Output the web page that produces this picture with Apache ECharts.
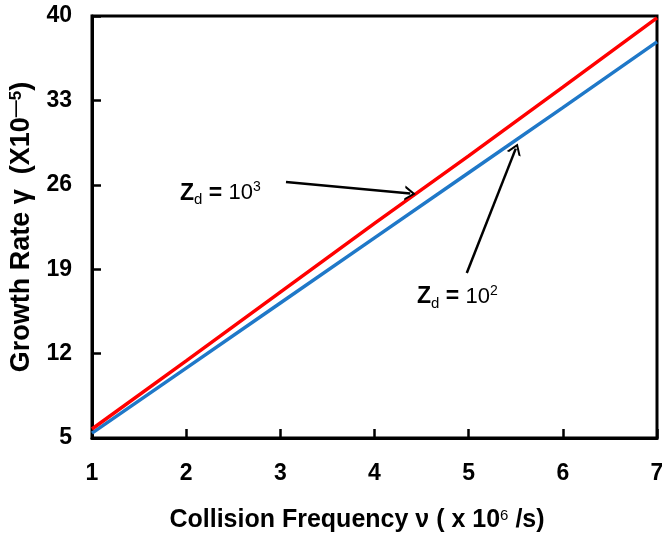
<!DOCTYPE html>
<html><head><meta charset="utf-8">
<script src="https://cdn.jsdelivr.net/npm/echarts@6/dist/echarts.min.js"></script>
<style>html,body{margin:0;padding:0;background:#fff}#c{width:662px;height:539px}</style>
</head><body><div id="c"></div>
<script>
const xValues = [1, 2, 3, 4, 5, 6, 7];
const zd1000 = [5.75, 11.4, 17.1, 22.8, 28.4, 34.1, 39.85];
const zd100 = [5.4, 10.8, 16.2, 21.6, 27.0, 32.4, 37.85];
const yTicks = [5, 12, 19, 26, 33, 40];

const FONT = '"Liberation Sans", Arial, sans-serif';
const chevron = 'path://M0,10 L5,0 L10,10 L8.4,10 L5,3.2 L1.6,10 Z';

const chart = echarts.init(document.getElementById('c'), null, {renderer: 'canvas'});
const option = {
  animation: false,
  backgroundColor: '#fff',
  grid: {left: 92, right: 5, top: 16, bottom: 101, show: true, borderColor: '#000', borderWidth: 3,
    outerBoundsMode: 'none', containLabel: false},
  xAxis: {
    type: 'value', min: 1, max: 7, interval: 1,
    axisLine: {lineStyle: {color: '#000', width: 3}},
    axisTick: {inside: true, length: 9, lineStyle: {color: '#000', width: 2.5}},
    splitLine: {show: false},
    axisLabel: {color: '#000', fontFamily: FONT, fontWeight: 'bold', fontSize: 23, margin: 24},
    name: 'Collision Frequency ν ( x 10{s|6} /s)',
    nameLocation: 'middle', nameGap: 70,
    nameTextStyle: {color: '#000', fontFamily: FONT, fontWeight: 'bold', fontSize: 25, padding: [0, 35, 0, 0],
      rich: {s: {fontFamily: FONT, fontSize: 15, fontWeight: 'normal', verticalAlign: 'top', padding: [0, 0, 10, 0]}}}
  },
  yAxis: {
    type: 'value', min: 5, max: 40,
    axisLine: {show: true, lineStyle: {color: '#000', width: 3}},
    axisTick: {show: true, inside: true, length: 9, customValues: yTicks, lineStyle: {color: '#000', width: 2.5}},
    splitLine: {show: false},
    axisLabel: {color: '#000', fontFamily: FONT, fontWeight: 'bold', fontSize: 23, margin: 20, customValues: yTicks},
    name: 'Growth Rate γ  (X10{s|—5})',
    nameLocation: 'middle', nameGap: 50, nameRotate: 90,
    nameTextStyle: {color: '#000', fontFamily: FONT, fontWeight: 'bold', fontSize: 27,
      rich: {s: {fontFamily: FONT, fontSize: 17, fontWeight: 'bold', padding: [0, 0, 12, 0]}}}
  },
  series: [
    {
      type: 'line', name: 'Zd=10^3', data: xValues.map((x, i) => [x, zd1000[i]]),
      symbol: 'none', lineStyle: {color: '#ff0000', width: 3.5}, z: 3,
      markLine: {
        silent: true, symbol: ['none', chevron], symbolSize: [15, 11],
        lineStyle: {color: '#000', width: 2.5, type: 'solid'}, label: {show: false},
        data: [[{coord: [3.06, 26.23]}, {coord: [4.38, 25.27]}]]
      }
    },
    {
      type: 'line', name: 'Zd=10^2', data: xValues.map((x, i) => [x, zd100[i]]),
      symbol: 'none', lineStyle: {color: '#1f78c8', width: 3.5}, z: 2,
      markLine: {
        silent: true, symbol: ['none', chevron], symbolSize: [15, 11],
        lineStyle: {color: '#000', width: 2.5, type: 'solid'}, label: {show: false},
        data: [[{coord: [4.98, 18.69]}, {coord: [5.5, 29.0]}]]
      }
    }
  ]
};
chart.setOption(option);

const lbl = (x, y, exp) => ({
  type: 'text', x: x, y: y,
  style: {
    text: '{z|Z}{d|d}{z| = }{n|10}{e|' + exp + '}',
    textVerticalAlign: 'middle', verticalAlign: 'middle',
    rich: {
      z: {fontFamily: FONT, fontWeight: 'bold', fontSize: 23, fill: '#000'},
      d: {fontFamily: FONT, fontSize: 15, fill: '#000', padding: [14, 0, 0, 0]},
      n: {fontFamily: FONT, fontSize: 22, fill: '#000'},
      e: {fontFamily: FONT, fontSize: 14, fill: '#000', padding: [0, 0, 12, 0]}
    }
  }
});
const p1 = chart.convertToPixel({gridIndex: 0}, [2.0, 25.3]);
const p2 = chart.convertToPixel({gridIndex: 0}, [4.46, 16.7]);
chart.setOption({graphic: [lbl(180, p1[1], '3'), lbl(417, p2[1], '2')]});
</script></body></html>
